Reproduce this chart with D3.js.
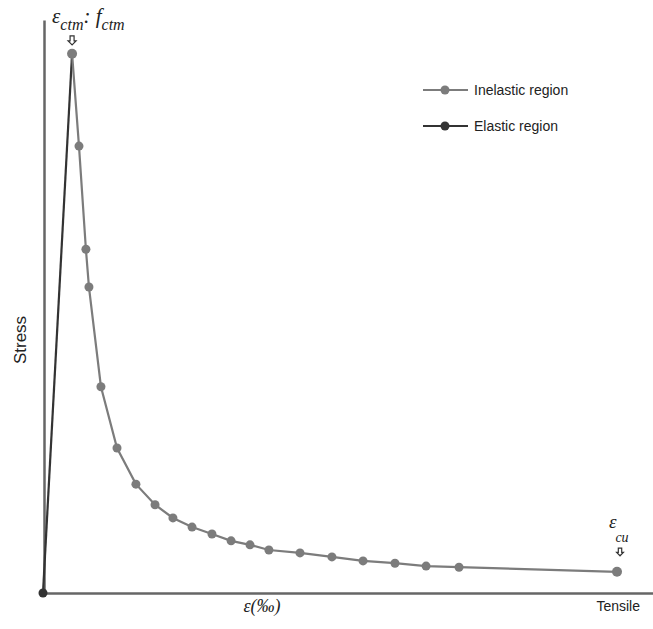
<!DOCTYPE html>
<html>
<head>
<meta charset="utf-8">
<script src="https://cdn.jsdelivr.net/npm/d3@7"></script>
<style>
  body { margin: 0; background: #fff; }
  svg { display: block; }
</style>
</head>
<body>
<div id="chart"></div>
<script>
// strain (arbitrary units along the tensile axis) and normalised stress
const elasticStrain = [0, 1.43]
const elasticStress = [0, 0.941]

const inelasticStrain = [1.43, 1.77, 2.11, 2.26, 2.85, 3.64, 4.57, 5.51, 6.39, 7.33, 8.31,
  9.25, 10.18, 11.11, 12.64, 14.21, 15.74, 17.31, 18.84, 20.46, 28.23]
const inelasticStress = [0.941, 0.78, 0.6, 0.534, 0.36, 0.253, 0.19, 0.154, 0.131, 0.115, 0.103,
  0.091, 0.084, 0.075, 0.07, 0.063, 0.056, 0.052, 0.047, 0.045, 0.037]

const legendLabels = ['Inelastic region', 'Elastic region']

const width = 653
const height = 629

const svg = d3.select('#chart')
  .append('svg')
  .attr('width', width)
  .attr('height', height)

const x = d3.scaleLinear().domain([0, 30]).range([43, 653])
const y = d3.scaleLinear().domain([0, 1]).range([593, 20])

const elastic = elasticStrain.map((d, i) => [d, elasticStress[i]])
const inelastic = inelasticStrain.map((d, i) => [d, inelasticStress[i]])

// axes without ticks
svg.append('g')
  .attr('transform', `translate(0,${y(0)})`)
  .call(d3.axisBottom(x).ticks(0).tickSizeOuter(0))
  .call(g => g.select('.domain').attr('stroke', '#666').attr('stroke-width', 2.5))

svg.append('g')
  .attr('transform', `translate(${x(0) + 1},0)`)
  .call(d3.axisLeft(y).ticks(0).tickSizeOuter(0))
  .call(g => g.select('.domain').attr('stroke', '#666').attr('stroke-width', 2.5))

const line = d3.line().x(d => x(d[0])).y(d => y(d[1]))

svg.append('path')
  .datum(elastic)
  .attr('d', line)
  .attr('fill', 'none')
  .attr('stroke', '#333')
  .attr('stroke-width', 2.2)

svg.append('path')
  .datum(inelastic)
  .attr('d', line)
  .attr('fill', 'none')
  .attr('stroke', '#7c7c7c')
  .attr('stroke-width', 2.2)

svg.append('circle')
  .attr('cx', x(elastic[0][0]))
  .attr('cy', y(elastic[0][1]))
  .attr('r', 4.5)
  .attr('fill', '#333')

svg.selectAll('.pt')
  .data(inelastic)
  .join('circle')
  .attr('class', 'pt')
  .attr('cx', d => x(d[0]))
  .attr('cy', d => y(d[1]))
  .attr('r', (d, i) => (i === 0 || i === inelastic.length - 1) ? 5 : 4.5)
  .attr('fill', '#7c7c7c')

// small hollow down arrow, tip at (cx, tipY)
function downArrow(cx, tipY, s) {
  const p = d3.path()
  p.moveTo(cx, tipY)
  p.lineTo(cx - 4 * s, tipY - 4 * s)
  p.lineTo(cx - 2 * s, tipY - 4 * s)
  p.lineTo(cx - 2 * s, tipY - 9 * s)
  p.lineTo(cx + 2 * s, tipY - 9 * s)
  p.lineTo(cx + 2 * s, tipY - 4 * s)
  p.lineTo(cx + 4 * s, tipY - 4 * s)
  p.closePath()
  svg.append('path')
    .attr('d', p.toString())
    .attr('fill', 'none')
    .attr('stroke', '#333')
    .attr('stroke-width', 1.2)
}

// annotation at the peak
const peak = inelastic[0]
const peakLabel = svg.append('text')
  .attr('x', x(peak[0]) - 20)
  .attr('y', 23)
  .attr('font-family', 'Liberation Serif, serif')
  .attr('font-style', 'italic')
  .attr('font-size', 21)
  .attr('fill', '#222')
peakLabel.append('tspan').text('ε')
peakLabel.append('tspan').attr('font-size', 16).attr('dy', 7).text('ctm')
peakLabel.append('tspan').attr('font-size', 21).attr('dy', -7).text(': ')
peakLabel.append('tspan').text('f')
peakLabel.append('tspan').attr('font-size', 16).attr('dy', 7).text('ctm')

downArrow(x(peak[0]), y(peak[1]) - 9, 1)

// annotation at the ultimate strain
const last = inelastic[inelastic.length - 1]
svg.append('text')
  .attr('x', x(last[0]) - 8)
  .attr('y', y(last[1]) - 44)
  .attr('font-family', 'Liberation Serif, serif')
  .attr('font-style', 'italic')
  .attr('font-size', 19)
  .attr('fill', '#222')
  .text('ε')
svg.append('text')
  .attr('x', x(last[0]) + 5)
  .attr('y', y(last[1]) - 30)
  .attr('text-anchor', 'middle')
  .attr('font-family', 'Liberation Serif, serif')
  .attr('font-style', 'italic')
  .attr('font-size', 14)
  .attr('fill', '#222')
  .text('cu')
downArrow(x(last[0]) + 3, y(last[1]) - 16, 0.85)

// axis titles
svg.append('text')
  .attr('transform', 'translate(26,340) rotate(-90)')
  .attr('text-anchor', 'middle')
  .attr('font-family', 'Liberation Sans, Arial, sans-serif')
  .attr('font-size', 17)
  .attr('fill', '#222')
  .text('Stress')

svg.append('text')
  .attr('x', 262)
  .attr('y', 612)
  .attr('text-anchor', 'middle')
  .attr('font-family', 'Liberation Serif, serif')
  .attr('font-style', 'italic')
  .attr('font-size', 18)
  .attr('fill', '#222')
  .text('ε(‰)')

svg.append('text')
  .attr('x', 640)
  .attr('y', 611)
  .attr('text-anchor', 'end')
  .attr('font-family', 'Liberation Sans, Arial, sans-serif')
  .attr('font-size', 14)
  .attr('fill', '#222')
  .text('Tensile')

// legend
const legendColors = ['#7c7c7c', '#333']
const legend = svg.append('g').attr('transform', 'translate(423,90)')
legendLabels.forEach((label, i) => {
  const g = legend.append('g').attr('transform', `translate(0,${i * 36})`)
  g.append('line')
    .attr('x1', 0).attr('x2', 45)
    .attr('stroke', legendColors[i])
    .attr('stroke-width', 2.2)
  g.append('circle')
    .attr('cx', 22).attr('r', 4.5)
    .attr('fill', legendColors[i])
  g.append('text')
    .attr('x', 51)
    .attr('y', 5)
    .attr('font-family', 'Liberation Sans, Arial, sans-serif')
    .attr('font-size', 14)
    .attr('fill', '#222')
    .text(label)
})
</script>
</body>
</html>
